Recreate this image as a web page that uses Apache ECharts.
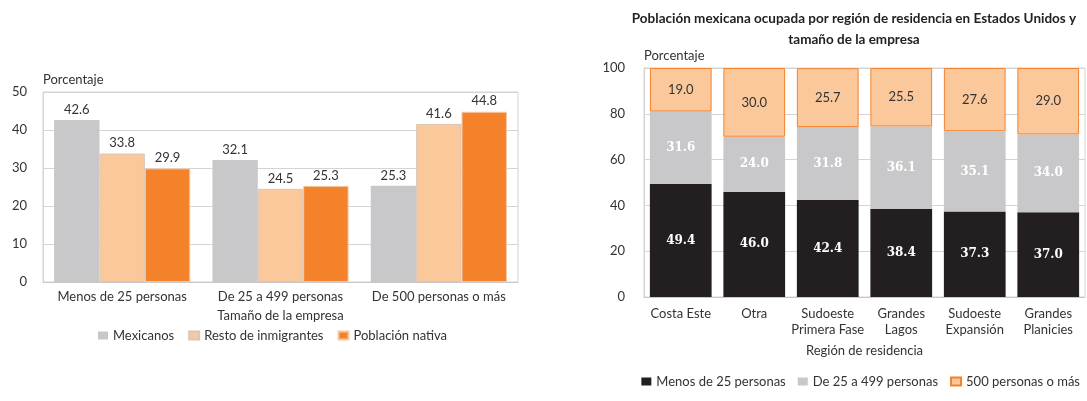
<!DOCTYPE html>
<html><head><meta charset="utf-8">
<script src="https://cdn.jsdelivr.net/npm/echarts@6/dist/echarts.min.js"></script>
<style>html,body{margin:0;padding:0;background:#fff}#c{width:1087px;height:401px}</style>
</head><body><div id="c"></div>
<script>
// Left chart data
const sizeCats = ['Menos de 25 personas', 'De 25 a 499 personas', 'De 500 personas o más'];
const mexicanos = [42.6, 32.1, 25.3];
const restoInm = [33.8, 24.5, 41.6];
const nativa = [29.9, 25.3, 44.8];
const leftTicks = [0, 10, 20, 30, 40, 50];

// Right chart data
const regions = ['Costa Este', 'Otra', 'Sudoeste\nPrimera Fase', 'Grandes\nLagos', 'Sudoeste\nExpansión', 'Grandes\nPlanicies'];
const menos25 = [49.4, 46.0, 42.4, 38.4, 37.3, 37.0];
const de25a499 = [31.6, 24.0, 31.8, 36.1, 35.1, 34.0];
const mas500 = [19.0, 30.0, 25.7, 25.5, 27.6, 29.0];
const rightTicks = [0, 20, 40, 60, 80, 100];

const FONT = 'Lato';
const TXT = '#333333';
const GRIDC = '#d4d4d4';

const chart = echarts.init(document.getElementById('c'), null, {renderer: 'canvas'});

const valLabel = {show: true, position: 'top', distance: 4, color: TXT, fontFamily: FONT, fontSize: 13, formatter: p => p.value.toFixed(1)};

chart.setOption({
  animation: false,
  textStyle: {fontFamily: FONT},
  title: {
    text: 'Población mexicana ocupada por región de residencia en Estados Unidos y\ntamaño de la empresa',
    left: 849, top: 3, textAlign: 'center',
    textStyle: {fontFamily: FONT, fontSize: 13.5, fontWeight: 'bold', color: '#222', lineHeight: 21}
  },
  legend: [
    {
      data: ['Mexicanos', 'Resto de inmigrantes', 'Población nativa'],
      left: 93, top: 324,
      itemWidth: 10, itemHeight: 8, itemGap: 14,
      textStyle: {fontFamily: FONT, fontSize: 13, color: TXT},
      icon: 'rect'
    },
    {
      data: ['Menos de 25 personas', 'De 25 a 499 personas', '500 personas o más'],
      right: 2, top: 370,
      itemWidth: 10, itemHeight: 8, itemGap: 12,
      textStyle: {fontFamily: FONT, fontSize: 13, color: TXT},
      icon: 'rect'
    }
  ],
  grid: [
    {left: 43, top: 92, right: 569, bottom: 119, show: true, borderColor: GRIDC, borderWidth: 1},
    {left: 644, top: 68, right: 2, bottom: 104, show: true, borderColor: GRIDC, borderWidth: 1}
  ],
  xAxis: [
    {
      gridIndex: 0, type: 'category', data: sizeCats,
      axisLine: {lineStyle: {color: '#c8c8c8'}}, axisTick: {show: false},
      axisLabel: {color: TXT, fontFamily: FONT, fontSize: 13, margin: 8, interval: 0},
      name: 'Tamaño de la empresa', nameLocation: 'middle', nameGap: 27,
      nameTextStyle: {color: TXT, fontFamily: FONT, fontSize: 13}
    },
    {
      gridIndex: 1, type: 'category', data: regions,
      axisLine: {lineStyle: {color: '#c8c8c8'}}, axisTick: {show: false},
      axisLabel: {color: TXT, fontFamily: FONT, fontSize: 13, margin: 9, lineHeight: 16, interval: 0},
      name: 'Región de residencia', nameLocation: 'middle', nameGap: 47,
      nameTextStyle: {color: TXT, fontFamily: FONT, fontSize: 13}
    }
  ],
  yAxis: [
    {
      gridIndex: 0, type: 'value', min: leftTicks[0], max: leftTicks[leftTicks.length - 1], interval: 10,
      axisLine: {show: true, lineStyle: {color: GRIDC}}, axisTick: {show: false},
      splitLine: {lineStyle: {color: GRIDC}},
      axisLabel: {color: TXT, fontFamily: FONT, fontSize: 13, margin: 16},
      name: 'Porcentaje', nameLocation: 'end', nameGap: 6,
      nameTextStyle: {color: TXT, fontFamily: FONT, fontSize: 13, align: 'left'}
    },
    {
      gridIndex: 1, type: 'value', min: rightTicks[0], max: rightTicks[rightTicks.length - 1], interval: 20,
      axisLine: {show: true, lineStyle: {color: GRIDC}}, axisTick: {show: false},
      splitLine: {lineStyle: {color: GRIDC}},
      axisLabel: {color: TXT, fontFamily: FONT, fontSize: 13, margin: 19},
      name: 'Porcentaje', nameLocation: 'end', nameGap: 6,
      nameTextStyle: {color: TXT, fontFamily: FONT, fontSize: 13, align: 'left'}
    }
  ],
  series: [
    {name: 'Mexicanos', type: 'bar', xAxisIndex: 0, yAxisIndex: 0, data: mexicanos, barGap: '0%', barCategoryGap: '14%',
      itemStyle: {color: '#c8c8ca'}, label: valLabel},
    {name: 'Resto de inmigrantes', type: 'bar', xAxisIndex: 0, yAxisIndex: 0, data: restoInm, barGap: '0%', barCategoryGap: '14%',
      itemStyle: {color: '#fbc89c', borderColor: '#d8c7b8', borderWidth: 1}, label: valLabel},
    {name: 'Población nativa', type: 'bar', xAxisIndex: 0, yAxisIndex: 0, data: nativa, barGap: '0%', barCategoryGap: '14%',
      itemStyle: {color: '#f4822a', borderColor: '#f6c8a2', borderWidth: 1}, label: valLabel},

    {name: 'Menos de 25 personas', type: 'bar', stack: 'r', xAxisIndex: 1, yAxisIndex: 1, data: menos25, barCategoryGap: '16%',
      itemStyle: {color: '#231f20'},
      label: {show: true, position: 'inside', color: '#ffffff', fontFamily: 'DejaVu Serif', fontWeight: 'bold', fontSize: 12, formatter: p => p.value.toFixed(1)}},
    {name: 'De 25 a 499 personas', type: 'bar', stack: 'r', xAxisIndex: 1, yAxisIndex: 1, data: de25a499, barCategoryGap: '16%',
      itemStyle: {color: '#c8c8ca'},
      label: {show: true, position: 'inside', color: '#ffffff', fontFamily: 'DejaVu Serif', fontWeight: 'bold', fontSize: 12, formatter: p => p.value.toFixed(1)}},
    {name: '500 personas o más', type: 'bar', stack: 'r', xAxisIndex: 1, yAxisIndex: 1, data: mas500, barCategoryGap: '16%',
      itemStyle: {color: '#fbc89c', borderColor: '#f4822a', borderWidth: 1},
      label: {show: true, position: 'inside', color: TXT, fontFamily: FONT, fontSize: 13, formatter: p => p.value.toFixed(1)}}
  ]
});
</script></body></html>
